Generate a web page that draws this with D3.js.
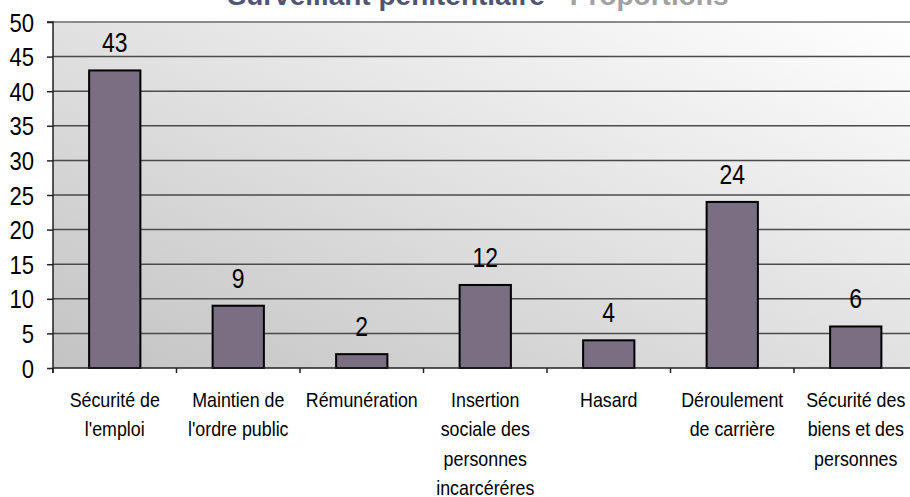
<!DOCTYPE html>
<html>
<head>
<meta charset="utf-8">
<script src="https://cdn.jsdelivr.net/npm/d3@7"></script>
<style>
  html, body { margin: 0; padding: 0; background: #ffffff; }
  svg { display: block; }
</style>
</head>
<body>
<svg id="chart" width="910" height="497"></svg>
<script>
const titleMain = "Surveillant pénitentiaire";
const titleSub = " - Proportions";
const categories = [
  ["Sécurité de", "l'emploi"],
  ["Maintien de", "l'ordre public"],
  ["Rémunération"],
  ["Insertion", "sociale des", "personnes", "incarcéréres"],
  ["Hasard"],
  ["Déroulement", "de carrière"],
  ["Sécurité des", "biens et des", "personnes"]
];
const values = [43, 9, 2, 12, 4, 24, 6];
const yTicks = [0, 5, 10, 15, 20, 25, 30, 35, 40, 45, 50];

const font = "'Liberation Sans', Arial, sans-serif";
const sx = 0.85; // horizontal compression of the narrow face
const svg = d3.select("#chart");
const m = { left: 53, top: 22, right: 917.5, bottom: 368 };

const x = d3.scaleBand().domain(d3.range(categories.length)).range([m.left, m.right]).padding(0);
const y = d3.scaleLinear().domain([0, 50]).range([m.bottom, m.top]);

// background gradient
const defs = svg.append("defs");
const grad = defs.append("linearGradient").attr("id", "bg")
  .attr("x1", "0%").attr("y1", "100%").attr("x2", "100%").attr("y2", "0%");
grad.append("stop").attr("offset", "0%").attr("stop-color", "#c3c3c3");
grad.append("stop").attr("offset", "100%").attr("stop-color", "#ffffff");

svg.append("rect")
  .attr("x", m.left).attr("y", m.top)
  .attr("width", m.right - m.left).attr("height", m.bottom - m.top)
  .attr("fill", "url(#bg)");

// gridlines
svg.append("g").selectAll("line").data(yTicks.filter(t => t > 0 && t < 50)).join("line")
  .attr("x1", m.left).attr("x2", m.right)
  .attr("y1", d => y(d)).attr("y2", d => y(d))
  .attr("stroke", "#4a4a4a").attr("stroke-width", 1.5);
svg.append("line")
  .attr("x1", m.left).attr("x2", m.right)
  .attr("y1", y(50)).attr("y2", y(50))
  .attr("stroke", "#8a8a8a").attr("stroke-width", 2);

// bars
const barW = x.bandwidth() * 0.415;
svg.append("g").selectAll("rect").data(values).join("rect")
  .attr("x", (d, i) => x(i) + (x.bandwidth() - barW) / 2)
  .attr("y", d => y(d))
  .attr("width", barW)
  .attr("height", d => y(0) - y(d))
  .attr("fill", "#7a6e82")
  .attr("stroke", "#000")
  .attr("stroke-width", 2);

// value labels
svg.append("g").selectAll("text").data(values).join("text")
  .attr("transform", (d, i) => `translate(${x(i) + x.bandwidth() / 2},${y(d) - 18}) scale(${sx},1)`)
  .attr("text-anchor", "middle")
  .attr("font-family", font)
  .attr("font-size", 27)
  .attr("fill", "#000")
  .text(d => d);

// y axis
const yAxis = d3.axisLeft(y).tickValues(yTicks).tickSize(6).tickPadding(5);
const gy = svg.append("g").attr("transform", `translate(${m.left},0)`).call(yAxis);
gy.select(".domain").attr("stroke", "#222").attr("stroke-width", 1.5).attr("d", `M-6,${m.top}H0V${m.bottom + 5}`);
gy.selectAll(".tick line").attr("stroke", "#222").attr("stroke-width", 1.5);
gy.selectAll(".tick text")
  .attr("x", null).attr("dy", null)
  .attr("transform", `translate(-19,9) scale(${sx},1)`)
  .attr("font-family", font).attr("font-size", 26).attr("fill", "#000");

// x axis
const gx = svg.append("g").attr("transform", `translate(0,${m.bottom})`);
gx.append("line").attr("x1", m.left).attr("x2", m.right).attr("y1", 0).attr("y2", 0)
  .attr("stroke", "#222").attr("stroke-width", 1.5);
gx.selectAll("line.tk").data(d3.range(categories.length)).join("line").attr("class", "tk")
  .attr("x1", d => x(d)).attr("x2", d => x(d)).attr("y1", 0).attr("y2", 5)
  .attr("stroke", "#222").attr("stroke-width", 1.5);
const cl = gx.selectAll("text.cat").data(categories).join("text").attr("class", "cat")
  .attr("transform", (d, i) => `translate(${x(i) + x.bandwidth() / 2},0) scale(${sx},1)`)
  .attr("text-anchor", "middle")
  .attr("font-family", font)
  .attr("font-size", 21)
  .attr("fill", "#000");
cl.each(function(lines) {
  d3.select(this).selectAll("tspan").data(lines).join("tspan")
    .attr("x", 0)
    .attr("y", (d, j) => 39 + j * 29.5)
    .text(d => d);
});

// title
const title = svg.append("text")
  .attr("x", 478).attr("y", 5)
  .attr("text-anchor", "middle")
  .attr("font-family", font)
  .attr("font-weight", "bold")
  .attr("font-size", 28);
title.append("tspan").attr("fill", "#4f5575").text(titleMain);
title.append("tspan").attr("fill", "#a0a0a0").text(titleSub);
</script>
</body>
</html>
